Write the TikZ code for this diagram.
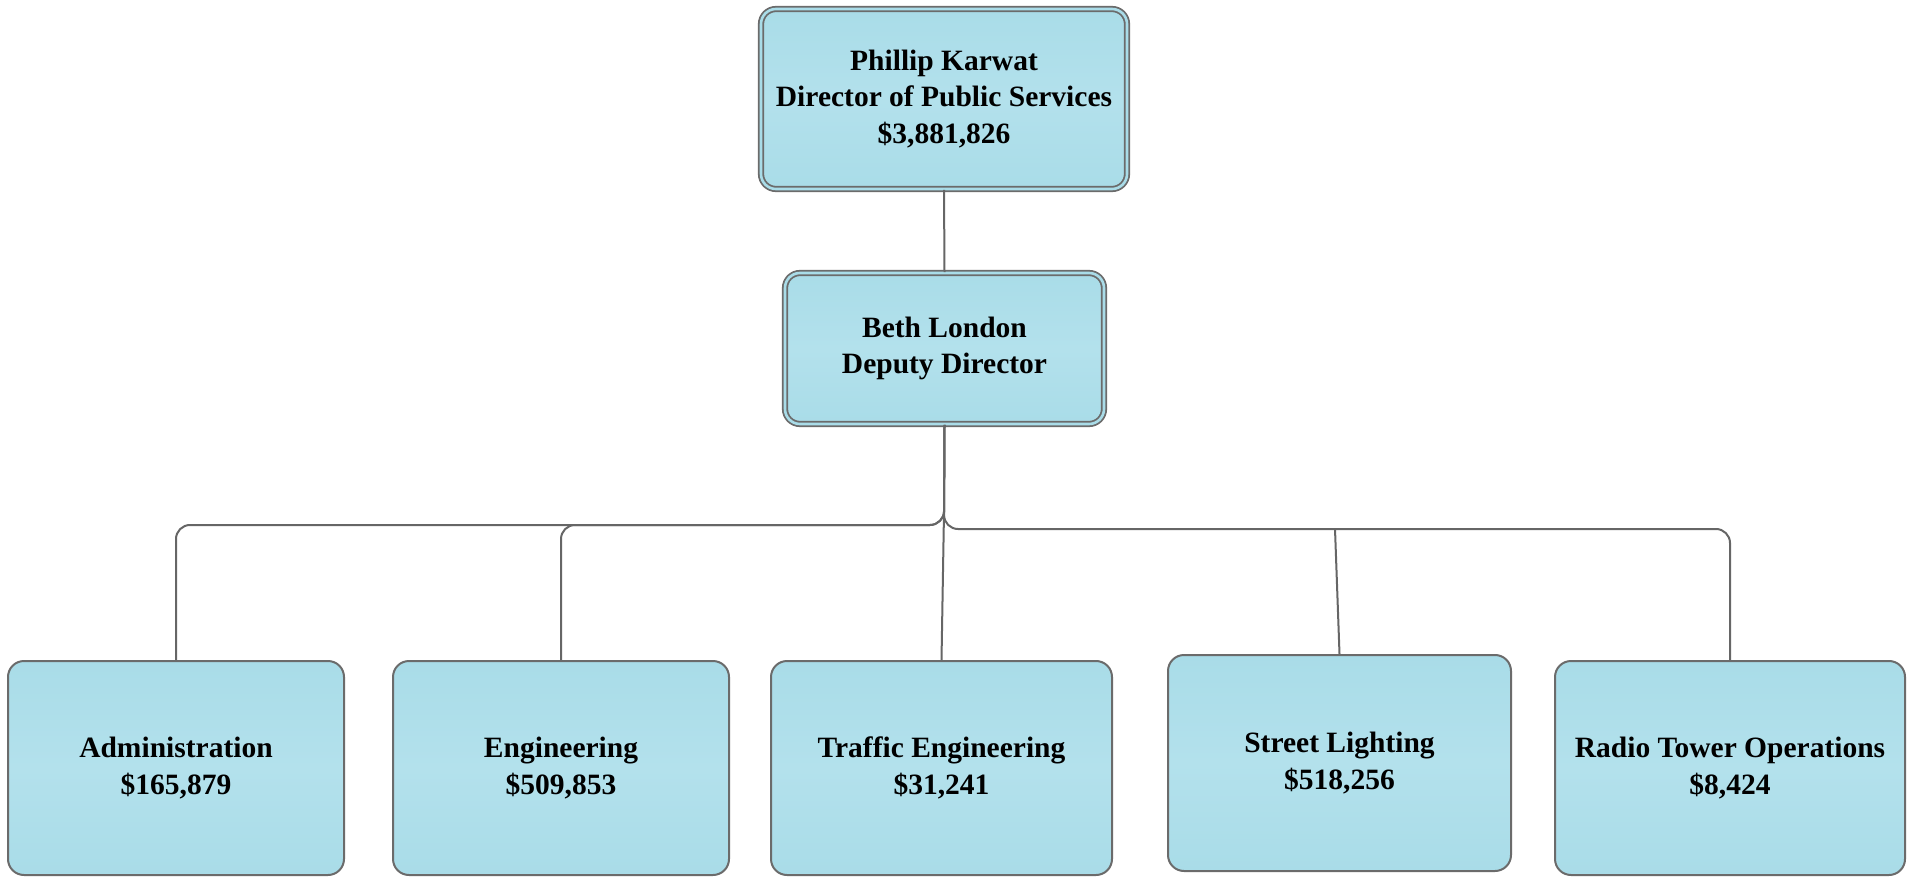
\documentclass[tikz,border=0pt]{standalone}
\usepackage{fontspec}
\setmainfont{Liberation Serif}
\definecolor{boxblue}{HTML}{A9DCE8}
\definecolor{boxlight}{HTML}{B3E1EC}
\definecolor{edgegray}{HTML}{6B6B6B}
\definecolor{linegray}{HTML}{666666}
\begin{document}
\begin{tikzpicture}[x=1pt,y=-1pt,
  boxtext/.style={font=\fontsize{29.5}{36.5}\selectfont\bfseries, align=center, text=black},
  unitbox/.style={boxtext, rectangle, rounded corners=16pt, draw=edgegray, line width=2pt,
    top color=boxblue, bottom color=boxblue, middle color=boxlight,
    minimum width=336pt, minimum height=214pt, inner sep=0pt},
  headbox/.style={boxtext, rectangle, rounded corners=15pt, draw=edgegray, line width=1.8pt,
    double=boxblue, double distance=2.6pt,
    top color=boxblue, bottom color=boxblue, middle color=boxlight, inner sep=0pt},
  link/.style={draw=linegray, line width=2pt},
  bus/.style={link, rounded corners=14pt}]
\useasboundingbox (0,0) rectangle (1914,877);

% leadership
\node[headbox, minimum width=366pt, minimum height=180pt] (dir) at (944,99)
  {Phillip Karwat\\Director of Public Services\\\$3,881,826};
\node[headbox, minimum width=319pt, minimum height=151pt] (dep) at (944.5,348.5)
  {Beth London\\Deputy Director};

% units
\node[unitbox] (adm) at (176,768) {Administration\\\$165,879};
\node[unitbox] (eng) at (561,768) {Engineering\\\$509,853};
\node[unitbox, minimum width=341pt] (trf) at (941.5,768) {Traffic Engineering\\\$31,241};
\node[unitbox, minimum width=343pt, minimum height=216pt] (str) at (1339.5,763) {Street Lighting\\\$518,256};
\node[unitbox, minimum width=350pt] (rad) at (1730,768) {Radio Tower Operations\\\$8,424};

% bus points
\coordinate (jl) at (944,525);
\coordinate (jr) at (944,529);
\coordinate (jt) at (944,512);
\coordinate (sl) at (1335,529);

% connectors
\draw[link] (dir.south) -- (dep.north);
\draw[bus] (dep.south) -- (jl) -- (adm.north |- jl) -- (adm.north);
\draw[bus] (dep.south) -- (jl) -- (eng.north |- jl) -- (eng.north);
\draw[bus] (dep.south) -- (jr) -- (rad.north |- jr) -- (rad.north);
\draw[link] (jt) -- (trf.north);
\draw[link] (sl) -- (str.north);
\end{tikzpicture}
\end{document}
